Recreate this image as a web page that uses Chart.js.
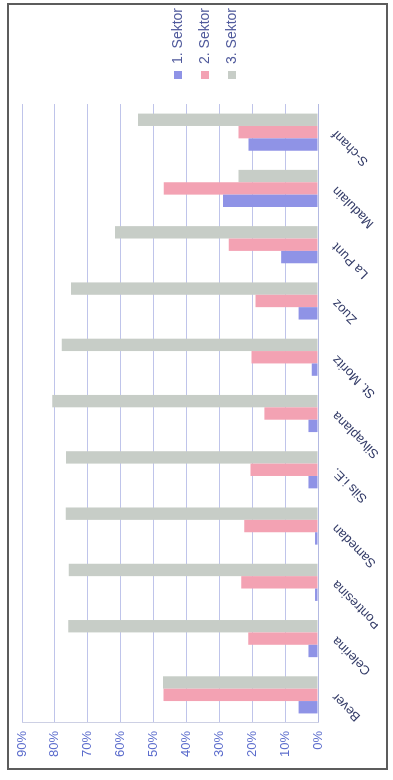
<!DOCTYPE html>
<html>
<head>
<meta charset="utf-8">
<script src="https://cdn.jsdelivr.net/npm/chart.js@4.4.1/dist/chart.umd.min.js"></script>
<style>
  html, body { margin: 0; padding: 0; background: #fff; }
  body { width: 393px; height: 780px; position: relative; overflow: hidden; }
  #frame { position: absolute; left: 7px; top: 3px; width: 377px; height: 763px; border: 2px solid #5c5c5c; }
  /* the chart is drawn upright and turned a quarter left, like the photographed sheet */
  #wrap { position: absolute; left: 0; top: 780px; width: 780px; height: 393px; transform-origin: 0 0; transform: rotate(-90deg); }
</style>
</head>
<body>
<div id="frame"></div>
<div id="wrap"><canvas id="chart" width="780" height="393"></canvas></div>
<script>
const orte = ["Bever", "Celerina", "Pontresina", "Samedan", "Sils i.E.", "Silvaplana", "St. Moritz", "Zuoz", "La Punt", "Madulain", "S-chanf"];
const sektor1 = [5.9, 2.9, 0.9, 0.9, 2.9, 2.9, 1.9, 5.9, 11.2, 28.9, 21.1];
const sektor2 = [47.0, 21.2, 23.3, 22.4, 20.5, 16.3, 20.2, 19.0, 27.1, 46.9, 24.2];
const sektor3 = [47.1, 75.9, 75.8, 76.7, 76.6, 80.8, 77.9, 75.1, 61.7, 24.2, 54.7];
const prozentTicks = [0, 10, 20, 30, 40, 50, 60, 70, 80, 90];

const font = "'Liberation Sans', Arial, sans-serif";

// legend sits a bit further from the plot than chart.js would put it
const legendVersatz = {
  id: "legendVersatz",
  afterLayout(chart) {
    chart.legend.left += 12;
    chart.legend.right += 12;
    chart.legend.top += 5;
    chart.legend.bottom += 5;
  },
};

const ctx = document.getElementById("chart").getContext("2d");
new Chart(ctx, {
  type: "bar",
  data: {
    labels: orte,
    datasets: [
      { label: "1. Sektor", data: sektor1, backgroundColor: "#8f93e6" },
      { label: "2. Sektor", data: sektor2, backgroundColor: "#f3a2b3" },
      { label: "3. Sektor", data: sektor3, backgroundColor: "#c7cdc7" },
    ],
  },
  plugins: [legendVersatz],
  options: {
    responsive: false,
    animation: false,
    layout: { padding: { left: 12, right: 10, top: 22, bottom: 15 } },
    datasets: { bar: { categoryPercentage: 0.66, barPercentage: 1.0 } },
    plugins: {
      tooltip: { enabled: false },
      legend: {
        position: "right",
        labels: {
          boxWidth: 8,
          boxHeight: 8,
          padding: 13,
          color: "#505a9c",
          font: { family: font, size: 14 },
        },
      },
    },
    scales: {
      x: {
        grid: { display: false },
        border: { color: "#b3b9e2" },
        ticks: {
          minRotation: 45,
          maxRotation: 45,
          color: "#343c68",
          font: { family: font, size: 13 },
        },
        afterFit: (scale) => { scale.height = 60; },
      },
      y: {
        min: 0,
        max: 90,
        afterBuildTicks: (scale) => { scale.ticks = prozentTicks.map((v) => ({ value: v })); },
        ticks: {
          color: "#5b6ccc",
          padding: 8,
          font: { family: font, size: 13 },
          callback: (v) => v + "%",
        },
        grid: { color: "#bfc4ea", drawTicks: false },
        border: { color: "#cdd0e4" },
        afterFit: (scale) => { scale.width = 45; },
      },
    },
  },
});
</script>
</body>
</html>
